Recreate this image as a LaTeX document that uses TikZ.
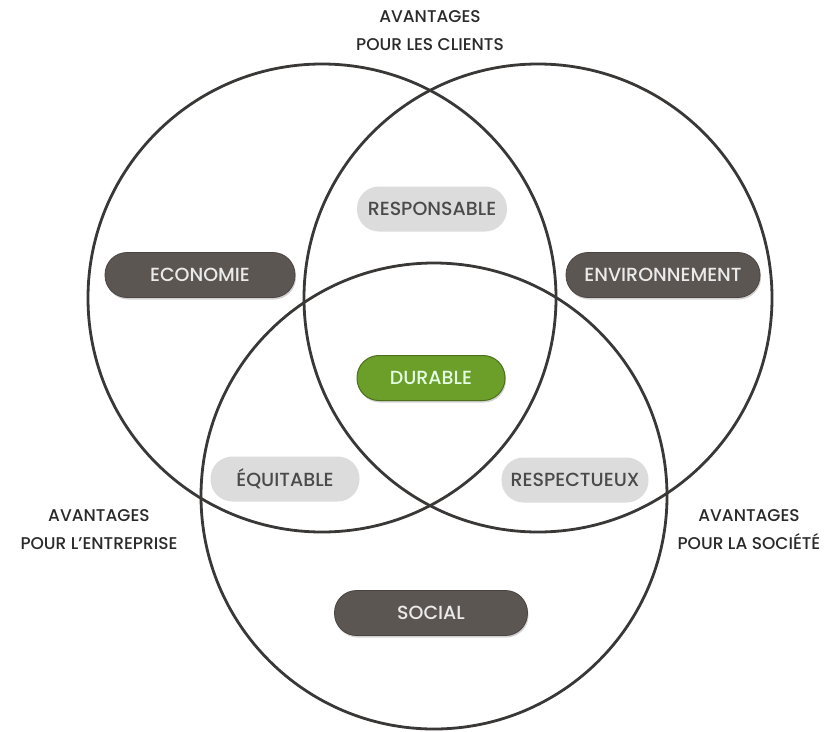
\documentclass[tikz,border=0pt]{standalone}
\usepackage{fontspec}
\setmainfont{Poppins Medium}
\usetikzlibrary{shadows}
\definecolor{ring}{HTML}{3A3837}
\definecolor{darkpill}{HTML}{5C5652}
\definecolor{greenpill}{HTML}{6C9E2A}
\definecolor{lightpill}{HTML}{DCDCDC}
\definecolor{lighttext}{HTML}{4A4A4A}
\definecolor{labeltext}{HTML}{2A2A2A}
\tikzset{
  ringline/.style={draw=ring, line width=2.8pt},
  pill/.style={rounded corners=22pt, minimum height=45pt, inner sep=0pt, font=\fontsize{19}{21}\selectfont},
  darkbox/.style={pill, fill=darkpill, draw=darkpill!80!black, line width=0.8pt, text=white!92!black,
     drop shadow={shadow xshift=1pt, shadow yshift=-2pt, opacity=0.35}},
  greenbox/.style={pill, fill=greenpill, draw=greenpill!70!black, line width=1pt, text=white!90!green,
     drop shadow={shadow xshift=1pt, shadow yshift=-2pt, opacity=0.35}},
  lightbox/.style={pill, fill=lightpill, text=lighttext},
  sidelabel/.style={align=center, text=labeltext, font=\fontsize{17}{28}\selectfont},
}
\begin{document}
\begin{tikzpicture}[x=1pt,y=-1pt]
\useasboundingbox (0,0) rectangle (834,731);
\fill[white] (0,0) rectangle (834,731);
% circles
\draw[ringline] (322,298) circle[radius=234];
\draw[ringline] (538,298) circle[radius=234];
\draw[ringline] (434,496) circle[radius=233];
% pills
\node[darkbox, minimum width=190pt] (eco) at (200,275) {ECONOMIE};
\node[darkbox, minimum width=194pt] (env) at (663,275) {ENVIRONNEMENT};
\node[darkbox, minimum width=193pt] (soc) at (431,613) {SOCIAL};
\node[greenbox, minimum width=148pt] (dur) at (431,378) {DURABLE};
\node[lightbox, minimum width=150pt] (resp) at (432,209) {RESPONSABLE};
\node[lightbox, minimum width=149pt] (equ) at (285,479) {ÉQUITABLE};
\node[lightbox, minimum width=147pt] (rsp) at (575,480) {RESPECTUEUX};
% labels
\node[sidelabel] (cli) at (430,31) {AVANTAGES\\POUR LES CLIENTS};
\node[sidelabel] (ent) at (99,530) {AVANTAGES\\POUR L’ENTREPRISE};
\node[sidelabel] (soct) at (749,530) {AVANTAGES\\POUR LA SOCIÉTÉ};
\end{tikzpicture}
\end{document}
